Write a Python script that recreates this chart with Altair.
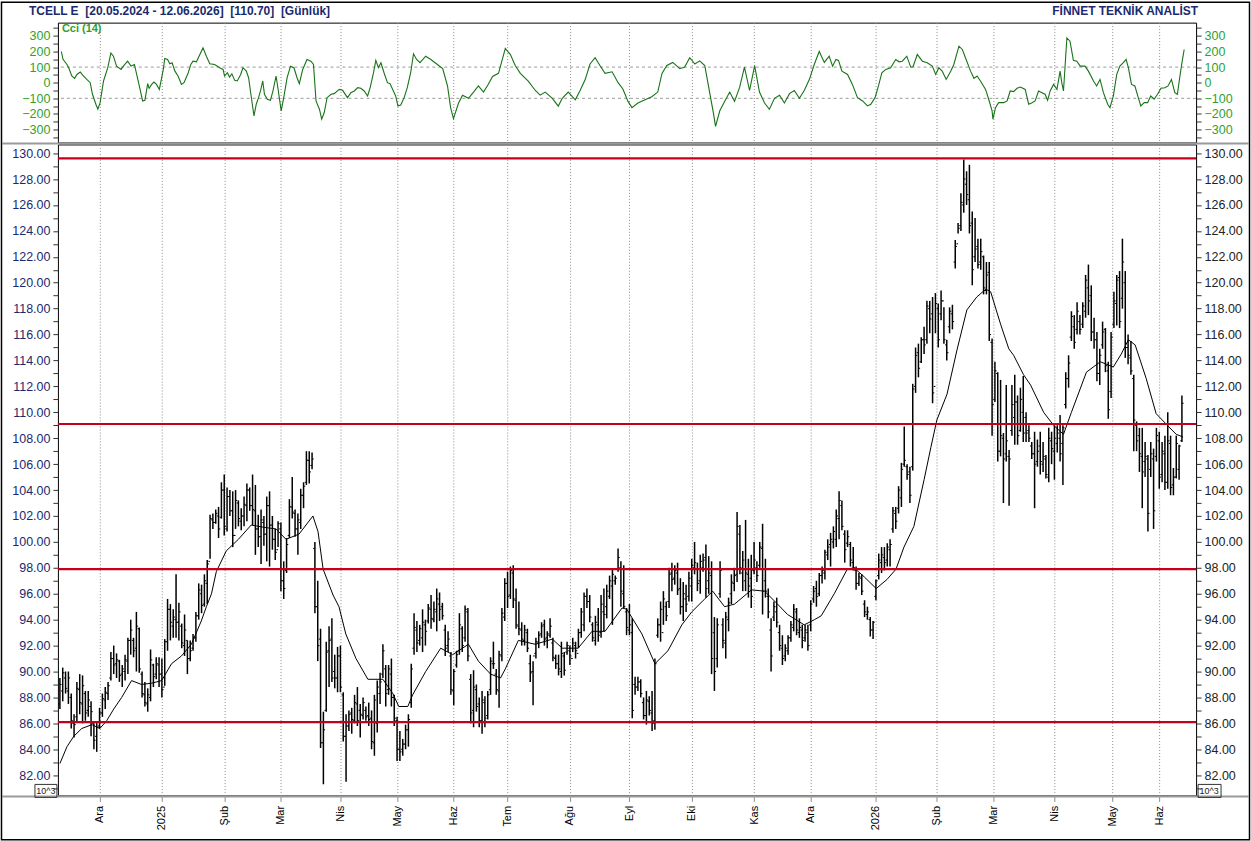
import altair as alt
import pandas as pd

# ---------------- data ----------------
HIGH = [
    # Kas 2024
    89.5, 90.3, 90.0, 90.0, 88.3, 86.7, 89.2, 89.8, 89.7, 88.5, 88.5, 87.7, 86.0, 86.1,
    # Ara 2024
    87.2, 88.3, 88.8, 89.2, 91.5, 92.0, 91.4, 90.9, 90.5, 91.3, 92.6, 94.0, 92.6, 94.6, 93.4, 90.0, 89.2, 88.7, 91.7, 90.6, 91.1, 91.1,
    # Oca 2025
    91.0, 92.5, 95.6, 95.2, 94.8, 97.5, 95.3, 93.7, 94.4, 92.4, 92.4, 92.9, 94.6, 96.8, 96.7, 97.5, 98.6, 102.1, 102.2, 102.5, 102.7, 104.6,
    # Şub 2025
    105.2, 104.2, 104.0, 103.9, 104.0, 103.2, 102.6, 103.5, 104.5, 104.2, 105.2, 104.4, 102.1, 102.5, 102.0, 103.5, 103.9, 102.0, 101.0, 101.6,
    # Mar 2025
    101.5, 98.5, 100.3, 103.3, 105.0, 102.5, 102.2, 104.1, 104.6, 107.0, 107.0, 106.9, 100.0, 97.0, 93.3, 86.9, 92.3, 93.5, 94.1, 91.3, 91.9,
    # Nis 2025
    92.0, 88.4, 86.7, 87.0, 87.2, 88.2, 88.8, 87.5, 88.0, 87.3, 87.6, 87.0, 88.2, 89.3, 89.9, 92.1, 90.5, 90.5, 91.0, 88.2,
    # May 2025
    86.5, 85.4, 84.8, 85.9, 86.7, 90.6, 94.5, 93.9, 93.6, 94.8, 94.0, 95.2, 95.9, 95.4, 96.4, 96.1, 95.3, 93.6, 93.1, 91.5,
    # Haz 2025
    90.2, 91.6, 94.5, 93.5, 95.1, 94.9, 89.8, 90.1, 89.0, 88.0, 88.5, 88.1, 88.5, 91.1, 92.3, 90.2, 91.6, 94.9, 97.2,
    # Tem 2025
    97.7, 98.1, 98.2, 96.4, 95.4, 93.8, 93.6, 93.3, 91.3, 90.8, 92.6, 93.1, 93.8, 94.0, 93.1, 94.1, 92.6, 91.3, 91.3, 92.3, 91.5, 92.3,
    # Ağu 2025
    92.0, 92.6, 92.3, 93.3, 94.9, 96.1, 96.4, 95.9, 93.8, 94.3, 94.9, 95.9, 96.4, 96.7, 97.4, 97.9, 97.4, 99.5, 98.5, 98.2, 94.9,
    # Eyl 2025
    95.2, 94.1, 89.6, 89.6, 89.4, 88.0, 88.5, 88.1, 88.5, 91.0, 94.1, 95.4, 96.2, 95.4, 98.0, 98.4, 98.2, 98.4, 97.2, 96.9, 96.7, 97.7,
    # Eki 2025
    98.7, 100.0, 98.4, 99.0, 99.1, 99.8, 98.9, 98.5, 94.2, 94.1, 98.5, 94.1, 94.6, 95.7, 97.5, 98.0, 102.3, 101.3, 99.3, 101.7, 98.7, 99.0,
    # Kas 2025
    100.0, 98.5, 100.0, 101.4, 98.7, 96.4, 94.1, 95.4, 95.7, 93.6, 92.8, 92.1, 92.8, 93.9, 95.2, 94.9, 94.1, 93.6, 93.6, 93.6,
    # Ara 2025
    95.5, 96.6, 97.0, 97.6, 98.1, 99.4, 100.2, 100.7, 101.2, 102.5, 103.9, 103.2, 100.9, 100.9, 100.0, 99.6, 98.1, 97.6, 97.5, 95.5, 95.0, 94.2, 93.9,
    # Oca 2026
    97.1, 99.1, 99.6, 99.6, 99.9, 100.2, 102.7, 102.7, 104.3, 106.1, 108.9, 106.0, 105.8, 112.2, 115.0, 115.3, 115.8, 116.6, 118.6, 118.6, 118.9,
    # Şub 2026
    119.2, 118.4, 119.4, 118.1, 115.6, 118.1, 118.3, 123.3, 124.6, 126.9, 129.5, 128.6, 129.1, 125.5, 125.0, 123.4, 123.4, 122.1, 121.6, 121.6,
    # Mar 2026
    115.7, 113.9, 113.1, 112.5, 108.4, 112.1, 107.1, 112.1, 112.9, 111.3, 111.9, 112.8, 110.0, 109.0, 107.7, 108.5, 107.9, 108.5, 107.7, 106.7, 108.8,
    # Nis 2026
    108.5, 109.0, 109.0, 109.8, 109.0, 113.1, 114.4, 117.8, 117.5, 118.5, 117.5, 118.5, 120.6, 121.4, 119.8, 117.3, 116.2, 114.9, 117.0, 116.5, 113.9,
    # May 2026
    116.2, 119.3, 120.6, 120.9, 123.4, 120.9, 116.0, 115.5, 112.9, 109.3, 108.8, 108.8, 107.7, 106.7, 107.7, 107.2,
    # Haz 2026
    108.8, 108.5, 107.7, 108.2, 110.0, 108.2, 105.7, 108.2, 107.5, 111.3,
]

LOW = [
    87.1, 87.7, 88.3, 87.5, 85.6, 84.9, 86.1, 86.7, 86.0, 86.2, 86.5, 85.0, 84.0, 83.8,
    85.6, 86.5, 87.1, 87.8, 89.3, 89.8, 89.5, 89.2, 88.8, 89.3, 89.8, 91.3, 91.1, 90.0, 89.9, 88.0, 87.3, 86.9, 87.7, 88.8, 89.4, 88.8,
    88.0, 88.9, 91.6, 92.4, 92.6, 92.6, 92.4, 91.8, 91.2, 89.8, 90.8, 91.6, 92.3, 94.0, 94.5, 95.0, 95.2, 98.7, 101.0, 101.4, 100.3, 101.8,
    100.5, 100.8, 102.0, 99.6, 101.0, 101.2, 100.9, 101.2, 101.6, 102.4, 101.3, 99.0, 99.6, 98.3, 99.7, 98.5, 98.1, 99.4, 98.6, 99.6,
    96.2, 95.6, 97.6, 100.3, 101.8, 100.4, 99.0, 101.0, 102.6, 104.4, 104.5, 105.6, 94.5, 90.8, 84.1, 81.3, 86.9, 88.8, 89.2, 88.7, 88.4,
    88.4, 84.6, 81.5, 85.4, 85.2, 86.0, 85.8, 84.9, 86.3, 86.2, 85.8, 84.0, 83.5, 85.3, 87.5, 89.5, 87.3, 88.2, 87.3, 85.8,
    83.1, 83.1, 83.5, 84.0, 84.2, 87.2, 91.3, 91.5, 92.0, 91.5, 92.0, 93.7, 93.3, 93.8, 93.1, 93.9, 94.0, 91.2, 91.5, 88.2,
    87.4, 90.3, 91.3, 91.5, 92.3, 90.8, 86.0, 85.7, 86.9, 85.7, 85.2, 85.7, 86.3, 88.2, 90.2, 88.2, 87.2, 90.8, 93.9,
    94.9, 95.6, 94.9, 93.3, 92.8, 92.0, 92.0, 91.5, 89.2, 87.4, 91.0, 91.8, 92.6, 92.0, 91.8, 92.6, 90.8, 90.2, 89.7, 89.5, 89.7, 91.3,
    90.5, 91.5, 91.0, 91.8, 92.6, 93.1, 94.9, 93.8, 92.3, 92.0, 92.3, 92.6, 93.1, 94.1, 95.6, 93.6, 96.7, 97.7, 95.0, 94.9, 92.8,
    92.8, 86.4, 88.2, 88.5, 88.0, 86.3, 85.9, 86.6, 85.4, 85.5, 92.6, 92.3, 93.6, 93.9, 94.9, 96.2, 96.7, 95.9, 94.4, 93.9, 94.6, 95.4,
    95.4, 97.5, 96.2, 96.0, 97.7, 95.7, 96.0, 89.8, 88.5, 90.3, 95.7, 91.8, 91.0, 93.1, 95.2, 96.2, 96.9, 97.5, 96.2, 96.2, 95.7, 94.9,
    97.5, 96.9, 98.0, 94.4, 95.7, 94.1, 90.0, 93.9, 93.4, 91.6, 90.5, 90.8, 91.3, 92.3, 93.1, 92.8, 92.6, 91.8, 92.3, 91.6,
    93.1, 95.3, 95.0, 95.8, 96.8, 97.1, 98.6, 98.1, 99.5, 99.6, 100.2, 100.9, 98.4, 99.6, 98.1, 97.8, 96.3, 96.6, 95.9, 94.2, 94.0, 92.7, 92.5,
    95.5, 97.1, 97.6, 97.8, 98.1, 98.1, 100.7, 101.0, 102.2, 102.7, 105.8, 104.8, 103.0, 105.5, 111.5, 112.7, 113.8, 114.5, 115.3, 116.1, 110.7,
    116.1, 115.0, 117.1, 115.3, 114.0, 116.1, 116.4, 121.1, 123.8, 124.0, 125.4, 126.0, 123.8, 119.8, 121.6, 121.1, 121.0, 119.1, 119.1, 115.5,
    108.2, 110.8, 106.2, 106.6, 103.0, 106.2, 102.8, 108.2, 107.5, 107.5, 108.5, 107.7, 107.7, 107.7, 106.4, 102.6, 105.8, 105.2, 105.4, 104.9, 104.6,
    106.0, 104.8, 106.9, 106.2, 104.4, 110.3, 111.9, 115.5, 114.9, 116.0, 116.0, 116.5, 117.3, 117.5, 115.5, 114.9, 112.4, 112.1, 114.9, 113.1, 109.5,
    111.1, 116.5, 116.7, 116.5, 118.0, 114.2, 113.7, 112.9, 107.0, 107.0, 105.4, 102.6, 105.0, 100.8, 105.0, 101.0,
    106.2, 104.1, 104.6, 104.0, 104.1, 103.6, 103.6, 104.9, 104.8, 107.7,
]

OPEN = [
    87.5, 88.5, 89.5, 88.5, 88.0, 86.0, 86.5, 88.6, 87.5, 88.3, 87.0, 87.3, 86.0, 85.0,
    85.8, 86.8, 87.8, 88.3, 89.5, 91.0, 90.6, 90.8, 89.8, 90.0, 90.8, 92.4, 92.4, 91.8, 93.3, 89.8, 88.2, 87.5, 88.0, 90.5, 89.8, 90.5,
    89.8, 88.8, 92.3, 94.8, 93.5, 94.0, 93.8, 93.5, 92.0, 92.4, 91.0, 91.8, 92.6, 94.3, 96.0, 95.2, 96.8, 98.5, 101.7, 101.5, 102.0, 101.9,
    104.0, 101.0, 103.5, 102.4, 100.5, 103.0, 101.6, 102.0, 102.8, 104.0, 102.8, 102.4, 101.0, 100.4, 101.5, 100.6, 102.8, 101.3, 100.2, 99.4,
    101.0, 97.0, 97.8, 100.5, 102.7, 102.2, 101.0, 101.5, 103.6, 104.6, 106.3, 105.9, 99.5, 95.0, 92.5, 84.5, 87.0, 91.6, 92.5, 90.0, 89.5,
    91.2, 88.2, 85.0, 85.8, 86.8, 86.2, 87.5, 87.0, 86.6, 87.0, 86.6, 86.4, 84.5, 86.0, 88.3, 89.8, 90.2, 88.6, 89.8, 88.0,
    86.2, 84.0, 84.0, 84.4, 85.5, 87.6, 91.8, 93.2, 92.4, 92.6, 93.6, 93.9, 94.8, 94.0, 94.6, 95.2, 95.0, 93.2, 92.0, 91.2,
    88.5, 90.5, 91.6, 93.3, 92.6, 94.6, 89.4, 87.0, 88.6, 87.5, 86.2, 87.6, 86.6, 88.6, 90.6, 89.8, 88.5, 91.2, 94.2,
    96.8, 95.9, 97.6, 95.5, 93.5, 93.2, 92.4, 93.0, 90.6, 90.0, 91.4, 92.2, 92.9, 93.6, 92.6, 92.8, 92.2, 91.0, 90.6, 90.0, 91.2, 91.5,
    91.6, 91.0, 92.0, 91.4, 93.0, 93.6, 95.8, 95.4, 93.6, 92.4, 93.6, 93.0, 94.6, 95.0, 95.8, 96.6, 97.0, 97.9, 98.0, 96.0, 94.6,
    93.2, 93.0, 89.0, 88.8, 89.2, 87.6, 86.6, 87.7, 86.8, 86.2, 92.8, 93.6, 93.0, 95.0, 95.4, 97.6, 97.2, 97.6, 96.4, 95.0, 95.6, 95.8,
    96.6, 98.0, 97.9, 97.0, 98.0, 98.8, 97.0, 97.4, 93.0, 91.0, 96.0, 93.6, 92.2, 94.0, 96.0, 96.8, 97.5, 100.6, 97.6, 97.0, 97.5, 97.2,
    97.8, 98.0, 98.2, 99.5, 97.0, 95.8, 93.2, 94.2, 94.6, 93.0, 91.8, 91.2, 91.6, 92.6, 93.4, 94.6, 93.0, 93.2, 92.6, 93.0,
    93.6, 95.6, 96.4, 96.0, 97.4, 97.6, 99.0, 99.8, 100.0, 100.2, 101.8, 102.8, 100.6, 99.9, 99.8, 98.4, 97.8, 96.8, 97.2, 95.2, 94.4, 94.0, 93.2,
    95.8, 97.4, 98.4, 98.8, 98.6, 99.4, 101.0, 102.2, 102.6, 103.4, 106.0, 105.8, 105.4, 105.8, 112.0, 114.6, 113.9, 115.6, 115.6, 118.0, 117.6,
    112.0, 118.0, 117.6, 118.6, 115.2, 116.6, 117.6, 121.6, 123.0, 124.4, 126.0, 127.6, 126.4, 124.6, 122.0, 122.8, 121.6, 122.0, 119.4, 120.8,
    115.4, 111.0, 113.0, 107.0, 108.0, 106.8, 106.6, 108.6, 109.6, 110.8, 108.6, 110.0, 109.6, 108.6, 107.4, 106.8, 106.2, 107.4, 106.0, 106.4, 105.0,
    107.8, 107.0, 107.6, 108.0, 107.6, 110.6, 112.6, 115.8, 116.6, 116.4, 117.0, 116.8, 117.8, 119.6, 119.0, 116.2, 115.6, 113.0, 115.2, 116.4, 113.2,
    111.6, 116.8, 118.4, 120.4, 118.8, 120.0, 115.0, 114.2, 112.6, 109.0, 108.2, 106.6, 106.2, 106.4, 105.6, 106.4,
    106.6, 107.8, 105.2, 106.8, 104.6, 107.6, 104.4, 105.0, 105.6, 107.8,
]

CLOSE = [
    89.0, 89.9, 88.7, 89.5, 86.2, 85.9, 88.7, 87.6, 88.9, 86.8, 87.8, 86.9, 84.7, 85.7,
    86.8, 87.9, 88.4, 88.9, 91.0, 90.5, 90.9, 89.7, 90.2, 90.9, 92.4, 93.2, 91.6, 93.5, 90.2, 88.3, 87.6, 88.2, 90.9, 89.6, 90.6, 89.8,
    88.6, 92.3, 94.8, 93.8, 94.2, 93.8, 94.6, 92.2, 93.2, 91.0, 91.6, 92.6, 94.3, 96.3, 95.1, 97.0, 98.3, 101.8, 101.5, 102.2, 101.0, 104.0,
    101.2, 103.5, 102.4, 100.5, 103.2, 101.8, 102.0, 102.9, 104.0, 102.8, 102.5, 101.0, 100.4, 101.7, 100.6, 102.8, 101.3, 100.2, 99.2, 101.4,
    97.0, 96.4, 99.8, 102.7, 102.3, 101.0, 101.7, 103.6, 104.3, 106.3, 105.4, 106.4, 95.0, 92.0, 84.5, 85.5, 91.5, 92.4, 89.5, 89.5, 91.2,
    88.8, 85.0, 85.8, 86.7, 86.3, 87.6, 86.2, 86.7, 87.6, 86.5, 86.3, 84.6, 87.8, 88.8, 89.2, 91.6, 88.3, 90.2, 88.0, 86.4,
    84.0, 83.8, 84.4, 85.5, 86.3, 90.2, 93.4, 92.2, 93.3, 93.8, 93.1, 94.9, 94.1, 94.8, 95.6, 94.8, 94.3, 91.8, 92.5, 88.6,
    90.0, 91.3, 93.6, 92.0, 94.8, 91.2, 86.8, 88.8, 87.3, 86.2, 87.8, 86.4, 88.2, 90.8, 90.6, 88.6, 91.3, 94.5, 96.8,
    95.8, 97.8, 95.6, 93.6, 93.3, 92.5, 93.2, 91.8, 89.9, 91.2, 92.3, 92.8, 93.5, 92.5, 92.9, 93.5, 91.1, 90.6, 90.2, 91.4, 90.1, 92.0,
    91.2, 92.2, 91.6, 93.0, 94.6, 95.8, 95.4, 94.2, 92.6, 93.8, 92.8, 95.2, 94.4, 96.2, 97.0, 97.5, 97.2, 98.8, 96.2, 95.0, 93.4,
    93.6, 87.0, 88.8, 89.2, 88.3, 86.6, 87.8, 87.0, 86.0, 90.6, 93.6, 94.8, 95.6, 94.3, 97.5, 97.1, 97.8, 96.3, 95.0, 96.0, 95.2, 97.2,
    98.2, 98.4, 96.8, 98.5, 98.6, 96.4, 97.6, 91.0, 90.0, 93.6, 97.8, 92.4, 94.2, 95.3, 96.9, 97.4, 101.2, 98.0, 98.6, 97.6, 96.6, 95.8,
    98.6, 97.4, 99.6, 96.2, 96.2, 94.6, 91.2, 95.0, 93.8, 92.0, 91.0, 91.8, 92.6, 93.6, 94.8, 93.2, 93.4, 92.4, 93.2, 92.0,
    95.2, 96.2, 95.8, 97.4, 97.8, 99.2, 99.6, 100.2, 100.8, 102.0, 103.2, 101.2, 99.4, 100.4, 98.6, 98.0, 96.8, 97.3, 96.2, 94.6, 94.6, 93.2, 93.8,
    97.0, 98.6, 99.0, 98.4, 99.6, 99.8, 102.4, 101.6, 104.0, 105.6, 106.3, 105.2, 103.6, 111.8, 114.4, 113.4, 115.6, 115.2, 118.2, 117.2, 111.5,
    118.4, 115.6, 118.6, 115.6, 114.6, 117.8, 117.0, 122.8, 124.2, 126.2, 128.0, 126.8, 124.4, 121.0, 122.6, 121.4, 122.4, 119.6, 120.6, 116.0,
    110.6, 113.2, 107.0, 108.2, 106.4, 107.8, 106.4, 110.6, 110.8, 108.2, 111.0, 108.4, 108.4, 108.0, 106.8, 106.0, 107.0, 106.2, 106.6, 105.2, 108.0,
    107.2, 108.0, 108.4, 106.8, 108.8, 112.6, 113.8, 117.4, 115.4, 117.8, 116.4, 118.2, 120.2, 118.6, 116.2, 115.6, 113.0, 114.4, 116.2, 113.6, 110.2,
    115.8, 118.6, 120.2, 117.0, 121.6, 115.0, 114.4, 113.2, 109.4, 107.8, 106.8, 105.4, 106.6, 102.2, 106.8, 102.4,
    108.2, 105.0, 107.0, 104.6, 107.8, 104.2, 105.0, 107.6, 107.4, 110.7,
]

# moving average line, read at points (bar index, value)
MA_IDX = [0, 2.5, 4.9, 7.7, 11.3, 14.1, 16.5, 19.0, 21.8, 25.3, 28.8, 32.4, 35.9, 39.4, 42.9, 46.4, 49.9, 51.7, 53.5, 55.2,
          58.7, 63.0, 67.5, 72.8, 76.3, 79.8, 84.4, 89.3, 91.1, 92.9, 96.4, 98.5, 100.9, 104.5, 108.7, 114.0, 117.5, 119.6, 122.8, 124.5,
          129.1, 134.4, 138.6, 144.2, 147.7, 152.0, 155.5, 157.2, 161.8, 167.8, 173.8, 177.3, 182.9, 187.8, 192.4, 198.4, 200.1, 205.4, 210.0, 214.6,
          219.5, 223.0, 227.6, 230.4, 234.6, 238.1, 244.1, 248.7, 253.3, 256.8, 262.7, 266.3, 268.7, 273.3, 277.9, 280.3, 283.9, 288.1, 291.9, 295.1,
          297.9, 301.4, 305.0, 307.4, 309.5, 313.1, 316.6, 320.1, 323.6, 326.8, 328.5, 332.0, 334.9, 336.6, 340.1, 342.6, 347.2, 350.7, 354.2, 357.0,
          362.3, 367.2, 371.8, 374.6, 377.1, 379.5, 383.4, 386.9, 390.4, 394.0, 396.4]
MA_VAL = [82.9, 84.2, 85.0, 85.6, 85.9, 85.6, 86.2, 87.1, 88.0, 89.3, 89.0, 89.1, 89.3, 90.6, 91.2, 92.1, 93.9, 95.0, 96.0, 97.7,
          99.3, 100.2, 101.3, 101.1, 101.0, 100.2, 100.6, 102.0, 100.8, 97.9, 95.9, 95.0, 92.9, 91.0, 89.4, 89.4, 88.3, 87.3, 87.3, 88.2,
          90.0, 91.8, 91.3, 92.1, 90.8, 89.8, 89.5, 90.2, 92.4, 92.1, 92.5, 91.8, 91.8, 93.1, 93.1, 94.9, 94.8, 92.9, 90.6, 91.6,
          93.6, 94.6, 95.6, 96.2, 95.0, 95.2, 96.3, 96.2, 95.2, 94.4, 93.6, 94.0, 94.3, 96.0, 97.9, 98.0, 97.3, 96.4, 97.1, 97.9,
          99.6, 101.2, 104.8, 107.3, 109.4, 111.4, 114.8, 117.9, 118.9, 119.5, 119.3, 116.8, 114.9, 114.4, 112.9, 112.1, 110.0, 109.0, 108.3, 110.0,
          113.1, 113.9, 113.5, 114.5, 115.6, 115.2, 112.6, 109.9, 109.1, 108.3, 108.1]

# CCI (14), read at points (bar index, value)
CCI_IDX = [0.5, 1.1, 2.5, 3.1, 4.2, 5.2, 6.0, 7.2, 8.3, 9.5, 10.7, 11.5, 12.7, 13.4, 14.2, 15.4, 16.9, 18.0, 18.9, 20.0,
           21.6, 22.4, 23.9, 25.1, 26.3, 27.1, 28.3, 29.2, 30.0, 31.0, 31.5, 32.4, 33.2, 34.1, 35.1, 36.5, 37.0, 38.0, 38.8, 39.6,
           40.6, 41.7, 42.9, 43.8, 45.3, 46.2, 47.0, 48.2, 49.4, 50.5, 51.7, 52.9, 54.6, 56.4, 57.6, 58.1, 59.1, 59.9, 60.7, 61.7,
           62.6, 63.8, 64.6, 65.8, 66.6, 67.5, 68.5, 69.3, 70.1, 70.8, 71.6, 72.2, 73.2, 74.3, 75.2, 76.3, 77.1, 78.1, 79.0, 80.2,
           81.4, 82.6, 83.7, 84.5, 85.7, 87.2, 88.6, 89.5, 90.4, 91.6, 92.4, 93.3, 94.3, 95.7, 96.8, 98.6, 99.8, 101.5, 102.7, 103.9,
           105.1, 106.2, 107.4, 108.6, 109.5, 110.7, 111.5, 112.4, 113.3, 114.4, 115.6, 116.5, 117.7, 118.5, 119.3, 120.3, 121.5, 122.6, 123.8, 124.8,
           125.9, 127.1, 129.1, 130.8, 133.0, 135.1, 136.8, 137.9, 138.9, 140.7, 142.1, 144.2, 146.0, 147.7, 149.5, 151.2, 152.7, 154.8, 157.2, 159.0,
           160.7, 162.5, 165.3, 167.8, 169.5, 171.3, 173.8, 175.9, 177.3, 179.4, 181.9, 183.6, 185.4, 187.1, 188.9, 190.6, 192.4, 194.9, 197.0, 198.7,
           200.5, 201.9, 204.0, 206.5, 208.9, 211.0, 212.5, 214.2, 216.3, 218.8, 220.5, 222.3, 224.1, 225.8, 227.6, 229.3, 230.7, 231.4, 232.9, 234.6,
           236.4, 238.1, 239.9, 241.6, 243.4, 245.2, 246.9, 248.7, 250.4, 252.2, 254.0, 255.7, 257.5, 259.2, 261.0, 262.7, 264.5, 266.3, 268.0, 269.8,
           271.5, 272.7, 273.9, 274.8, 276.0, 278.0, 279.7, 281.5, 283.3, 285.0, 286.2, 287.7, 288.9, 290.1, 291.5, 293.2, 295.0, 296.2, 297.3, 298.9,
           300.3, 301.1, 302.6, 304.4, 306.1, 307.9, 309.1, 310.2, 311.4, 312.8, 314.4, 315.5, 317.3, 318.5, 319.6, 321.4, 322.6, 323.7, 324.9, 326.7,
           327.8, 329.0, 329.3, 330.2, 331.3, 333.1, 334.3, 335.4, 336.6, 337.8, 339.0, 340.7, 341.9, 343.1, 344.2, 345.4, 346.6, 347.7, 348.6, 349.5,
           350.7, 351.9, 353.0, 353.6, 354.2, 354.8, 355.4, 356.5, 357.7, 358.9, 360.1, 361.8, 363.0, 364.8, 365.9, 367.1, 368.3, 369.8, 370.6, 371.8,
           373.0, 374.1, 375.3, 376.3, 377.1, 378.2, 379.4, 380.6, 381.5, 382.7, 383.9, 385.0, 386.2, 387.4, 388.6, 390.0, 391.1, 392.3, 393.5, 394.4,
           395.3, 396.1, 396.8]
CCI_VAL = [200, 150, 117, 96, 43, 28, 53, 68, 43, 21, 0, -74, -138, -170, -128, 11, 96, 191, 170, 106,
           85, 106, 138, 106, 117, 53, -43, -117, -113, -6, -36, -11, 4, -11, -43, 85, 155, 149, 121, 128,
           74, 43, -11, 0, 64, 117, 138, 134, 181, 223, 170, 121, 117, 96, 85, 43, 64, 36, 57, 15,
           11, 53, 96, 74, 32, -85, -213, -138, -96, -53, 11, -74, -106, -113, -53, 43, -53, -181, -96, 32,
           106, 96, 32, -6, 85, 149, 138, 117, -117, -170, -234, -191, -96, -74, -70, -43, -49, -96, -64, -53,
           -32, -36, -53, -85, -32, 64, 143, 96, 128, 64, 0, -6, -53, -85, -149, -143, -96, -32, 64, 185,
           149, 128, 170, 150, 120, 90, -20, -160, -230, -130, -80, -100, -60, -20, -60, -10, 40, 60, 220, 180,
           110, 60, 10, -50, -80, -60, -100, -150, -100, -60, -110, -50, 20, 120, 160, 110, 60, 70, 0, -40,
           -120, -160, -130, -110, -90, -60, 60, 110, 130, 90, 100, 160, 120, 140, 110, -60, -200, -280, -180, -120,
           -60, -120, -30, 100, -50, 110, -60, -130, -170, -100, -80, -130, -70, -50, -100, -50, 20, 120, 200, 130,
           170, 106, 149, 143, 74, 53, -11, -96, -117, -149, -138, -96, -21, 64, 85, 96, 149, 134, 138, 170,
           100, 102, 181, 138, 128, 106, 53, 96, 74, 21, 74, 117, 234, 213, 160, 74, 28, 43, 11, -43,
           -106, -181, -234, -160, -128, -128, -117, -53, -57, -36, -28, -43, -138, -128, -117, -53, -64, -74, -113, -53,
           -11, -43, 74, 0, -53, 117, 287, 266, 143, 138, 106, 106, 74, 11, -21, 21, -64, -138, -160, -85,
           53, 106, 128, 149, 96, -11, -21, -96, -149, -128, -128, -85, -106, -74, -36, -32, -21, 21, -64, -74,
           43, 138, 213]

LEVELS = [129.6, 109.1, 97.9, 86.1]
CCI_GRID = [-100, 100]

MONTH_POS = [14, 36, 58, 78, 99, 119, 139, 158, 180, 201, 223, 245, 265, 288, 309.5, 329.5, 351, 371.5, 388]
MONTH_LBL = ["Ara", "2025", "Şub", "Mar", "Nis", "May", "Haz", "Tem", "Ağu", "Eyl",
             "Eki", "Kas", "Ara", "2026", "Şub", "Mar", "Nis", "May", "Haz"]

NB = "\u00a0"
HEADER_LEFT = ["TCELL E" + NB + NB + "[20.05.2024 - 12.06.2026]" + NB + NB + "[110.70]" + NB + NB + "[Günlük]"]
HEADER_RIGHT = ["FİNNET TEKNİK ANALİST"]
CCI_NAME = ["Cci (14)"]
EXP_LABEL = ["10^3"]

# ---------------- styling ----------------
FONT = "Liberation Sans"
W, H_CCI, H_MAIN = 1140, 120, 652
NAVY = "#1b2a6e"
GREEN_LBL = "#2f9f2f"
GREEN_LINE = "#177317"
RED = "#c4001a"
GRID = "#8c8c8c"

n = min(len(HIGH), len(LOW), len(OPEN), len(CLOSE))
bars = pd.DataFrame({"i": list(range(n)), "h": HIGH[:n], "l": LOW[:n], "o": OPEN[:n], "c": CLOSE[:n]})
m = min(len(MA_IDX), len(MA_VAL))
ma = pd.DataFrame({"i": MA_IDX[:m], "v": MA_VAL[:m]})
k = min(len(CCI_IDX), len(CCI_VAL))
cci = pd.DataFrame({"i": CCI_IDX[:k], "v": CCI_VAL[:k]})
levels = pd.DataFrame({"level": LEVELS})
cgrid = pd.DataFrame({"g": CCI_GRID})
one = pd.DataFrame({"a": [0]})

xscale = alt.Scale(domain=[-0.7, 401.0], nice=False, zero=False)
ys_main = alt.Scale(domain=[80.44, 130.67], nice=False, zero=False)
ys_cci = alt.Scale(domain=[-383, 385], nice=False, zero=False)

label_expr = "".join(f"datum.value == {p} ? '{l}' : " for p, l in zip(MONTH_POS, MONTH_LBL)) + "''"

x_axis_main = alt.Axis(values=MONTH_POS, labelExpr=label_expr, labelAngle=270, labelFont=FONT,
                       labelFontSize=11, labelColor="#000", ticks=True, tickSize=6, tickColor=GRID,
                       domain=False, title=None, labelPadding=4, labelOverlap=False,
                       labelBound=False, labelFlush=False, grid=True, gridColor=GRID,
                       gridDash=[1, 2], gridWidth=1)
x_axis_cci = alt.Axis(values=MONTH_POS, labels=False, ticks=False, domain=False, title=None,
                      grid=True, gridColor=GRID, gridDash=[1, 2], gridWidth=1,
                      minExtent=0, maxExtent=0)

YVALS = list(range(81, 131))
ylab = "datum.value % 2 == 0 ? format(datum.value, '.2f') : ''"
y_left = alt.Axis(values=YVALS, labelExpr=ylab, orient="left", grid=False, ticks=True, tickSize=5,
                  tickColor="#333", domain=False, labelColor=NAVY, labelFont=FONT, labelFontSize=12.5,
                  title=None, labelOverlap=False, labelPadding=3, minExtent=54, maxExtent=54)
y_right = alt.Axis(values=YVALS, labelExpr=ylab, orient="right", grid=False, ticks=True, tickSize=5,
                   tickColor="#333", domain=False, labelColor="#222", labelFont=FONT, labelFontSize=12.5,
                   title=None, labelOverlap=False, labelPadding=3, minExtent=54, maxExtent=54)

CVALS = list(range(-350, 351, 50))
clab = "datum.value % 100 == 0 ? format(datum.value, 'd') : ''"
c_left = alt.Axis(values=CVALS, labelExpr=clab, orient="left", grid=False, tickSize=5, tickColor="#333",
                  domain=False, labelColor=GREEN_LBL, labelFont=FONT, labelFontSize=12.5, title=None,
                  labelOverlap=False, labelPadding=3, minExtent=54, maxExtent=54)
c_right = alt.Axis(values=CVALS, labelExpr=clab, orient="right", grid=False, tickSize=5, tickColor="#333",
                   domain=False, labelColor=GREEN_LBL, labelFont=FONT, labelFontSize=12.5, title=None,
                   labelOverlap=False, labelPadding=3, minExtent=54, maxExtent=54)

X = alt.X("i:Q", scale=xscale, axis=x_axis_main)

# ---------------- CCI panel ----------------
cci_grid_layer = alt.Chart(cgrid).mark_rule(color="#9a9a9a", strokeDash=[3, 3], strokeWidth=1).encode(
    y=alt.Y("g:Q", scale=ys_cci, axis=c_right))
cci_line = alt.Chart(cci).mark_line(color=GREEN_LINE, strokeWidth=1.1).encode(
    x=alt.X("i:Q", scale=xscale, axis=x_axis_cci),
    y=alt.Y("v:Q", scale=ys_cci, axis=c_left))
cci_name = alt.Chart(pd.DataFrame({"t": CCI_NAME})).mark_text(
    align="left", baseline="middle", font=FONT, fontSize=11, fontWeight="bold", color=GREEN_LBL).encode(
    text="t:N", x=alt.value(4), y=alt.value(6))
head_l = alt.Chart(pd.DataFrame({"t": HEADER_LEFT})).mark_text(
    align="left", baseline="middle", font=FONT, fontSize=12, fontWeight="bold", color=NAVY).encode(
    text="t:N", x=alt.value(-29), y=alt.value(-12))
head_r = alt.Chart(pd.DataFrame({"t": HEADER_RIGHT})).mark_text(
    align="right", baseline="middle", font=FONT, fontSize=12, fontWeight="bold", color=NAVY).encode(
    text="t:N", x=alt.value(1142), y=alt.value(-12))

cci_panel = alt.layer(cci_grid_layer, cci_line, cci_name, head_l, head_r).resolve_axis(
    y="independent").properties(width=W, height=H_CCI)

# ---------------- main panel ----------------
hl = alt.Chart(bars).mark_rule(color="#000", strokeWidth=1.5).encode(
    x=X, y=alt.Y("l:Q", scale=ys_main, axis=y_left), y2="h:Q")
open_t = alt.Chart(bars).transform_calculate(x0="datum.i - 0.6").mark_rule(
    color="#000", strokeWidth=1).encode(
    x=alt.X("x0:Q", scale=xscale, axis=x_axis_main), x2="i:Q",
    y=alt.Y("o:Q", scale=ys_main, axis=None))
close_t = alt.Chart(bars).transform_calculate(x1="datum.i + 0.6").mark_rule(
    color="#000", strokeWidth=1).encode(
    x=X, x2="x1:Q", y=alt.Y("c:Q", scale=ys_main, axis=None))
ma_line = alt.Chart(ma).mark_line(color="#000", strokeWidth=1).encode(
    x=X, y=alt.Y("v:Q", scale=ys_main, axis=None))
lvl = alt.Chart(levels).mark_rule(color=RED, strokeWidth=2.2).encode(
    y=alt.Y("level:Q", scale=ys_main, axis=y_right))

frame = alt.Chart(one).mark_rect(fill=None, stroke="#000", strokeWidth=1.5).encode(
    x=alt.value(-56.5), x2=alt.value(1193.5), y=alt.value(-142.5), y2=alt.value(696.5))
sep1 = alt.Chart(one).mark_rule(color="#9a9a9a", strokeWidth=2).encode(
    x=alt.value(-56), x2=alt.value(1193), y=alt.value(-1))
sep2 = alt.Chart(one).mark_rule(color="#9a9a9a", strokeWidth=2).encode(
    x=alt.value(-56), x2=alt.value(1193), y=alt.value(653))
exp_l = alt.Chart(pd.DataFrame({"t": EXP_LABEL})).mark_text(
    align="center", baseline="middle", font=FONT, fontSize=9, color="#222").encode(
    text="t:N", x=alt.value(-12), y=alt.value(648))
exp_r = alt.Chart(pd.DataFrame({"t": EXP_LABEL})).mark_text(
    align="center", baseline="middle", font=FONT, fontSize=9, color="#222").encode(
    text="t:N", x=alt.value(1153), y=alt.value(648))
box_l = alt.Chart(one).mark_rect(fill=None, stroke="#333", strokeWidth=1).encode(
    x=alt.value(-23), x2=alt.value(-1), y=alt.value(641), y2=alt.value(654))
box_r = alt.Chart(one).mark_rect(fill=None, stroke="#333", strokeWidth=1).encode(
    x=alt.value(1142), x2=alt.value(1165), y=alt.value(641), y2=alt.value(654))

main_panel = alt.layer(hl, open_t, close_t, ma_line, lvl, frame, sep1, sep2,
                       box_l, box_r, exp_l, exp_r).resolve_axis(
    y="independent").properties(width=W, height=H_MAIN)

chart = alt.vconcat(cci_panel, main_panel, spacing=2, bounds="flush").properties(
    padding=0, background="white").configure_view(stroke="#000", strokeWidth=1)

chart.save("out.html", embed_options={"renderer": "svg", "actions": False})
